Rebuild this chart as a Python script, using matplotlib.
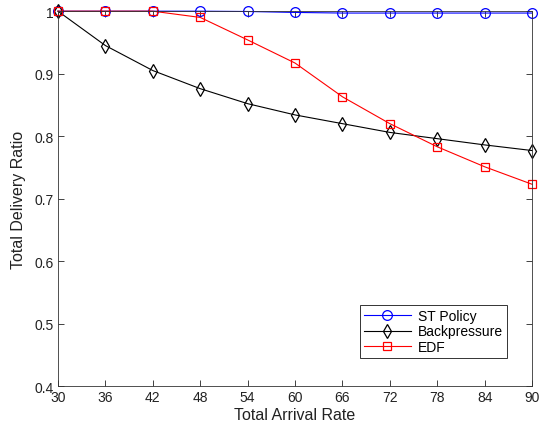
import matplotlib
matplotlib.use("Agg")
import matplotlib.pyplot as plt

plt.rcParams['font.family'] = ['Liberation Sans', 'DejaVu Sans']

x = [30, 36, 42, 48, 54, 60, 66, 72, 78, 84, 90]
st_policy = [1.0, 1.0, 1.0, 1.0, 0.9995, 0.998, 0.997, 0.997, 0.997, 0.997, 0.997]
backpressure = [1.0, 0.945, 0.905, 0.876, 0.852, 0.834, 0.820, 0.806, 0.796, 0.786, 0.777]
edf = [1.0, 1.0, 1.0, 0.990, 0.954, 0.917, 0.863, 0.820, 0.783, 0.751, 0.723]
xticks = [30, 36, 42, 48, 54, 60, 66, 72, 78, 84, 90]
yticks = [0.4, 0.5, 0.6, 0.7, 0.8, 0.9, 1.0]
yticklabels = ['0.4', '0.5', '0.6', '0.7', '0.8', '0.9', '1']

fig = plt.figure(figsize=(5.4, 4.35), dpi=100)
ax = fig.add_axes([0.1074, 0.110, 0.878, 0.862])

ax.plot(x, st_policy, color='#0000ff', marker='o', mfc='none', ms=7, mew=0.9, lw=0.8, label='ST Policy', clip_on=False)
ax.plot(x, backpressure, color='black', marker='d', mfc='none', ms=7.5, mew=0.9, lw=0.8, label='Backpressure', clip_on=False)
ax.plot(x, edf, color='#ff0000', marker='s', mfc='none', ms=6, mew=0.9, lw=0.8, label='EDF', clip_on=False)

ax.set_xlim(30, 90)
ax.set_ylim(0.4, 1.0)
ax.set_xticks(xticks)
ax.set_yticks(yticks)
ax.set_yticklabels(yticklabels)
ax.tick_params(direction='in', top=True, right=True, labelsize=10, length=4, width=0.6, pad=3, colors='#222222')
for s in ax.spines.values():
    s.set_linewidth(0.6)
    s.set_color('#333333')
ax.set_xlabel('Total Arrival Rate', fontsize=11.5, labelpad=2, color='#222222')
ax.set_ylabel('Total Delivery Ratio', fontsize=11.5, labelpad=6, color='#222222')

leg = ax.legend(loc='lower right', bbox_to_anchor=(0.9475, 0.075), borderaxespad=0, fontsize=10,
                fancybox=False, edgecolor='#333333', framealpha=1, handlelength=3.4, borderpad=0.3,
                labelspacing=0.1, handletextpad=0.5)
leg.get_frame().set_linewidth(0.7)

fig.savefig('out.png', dpi=100)
